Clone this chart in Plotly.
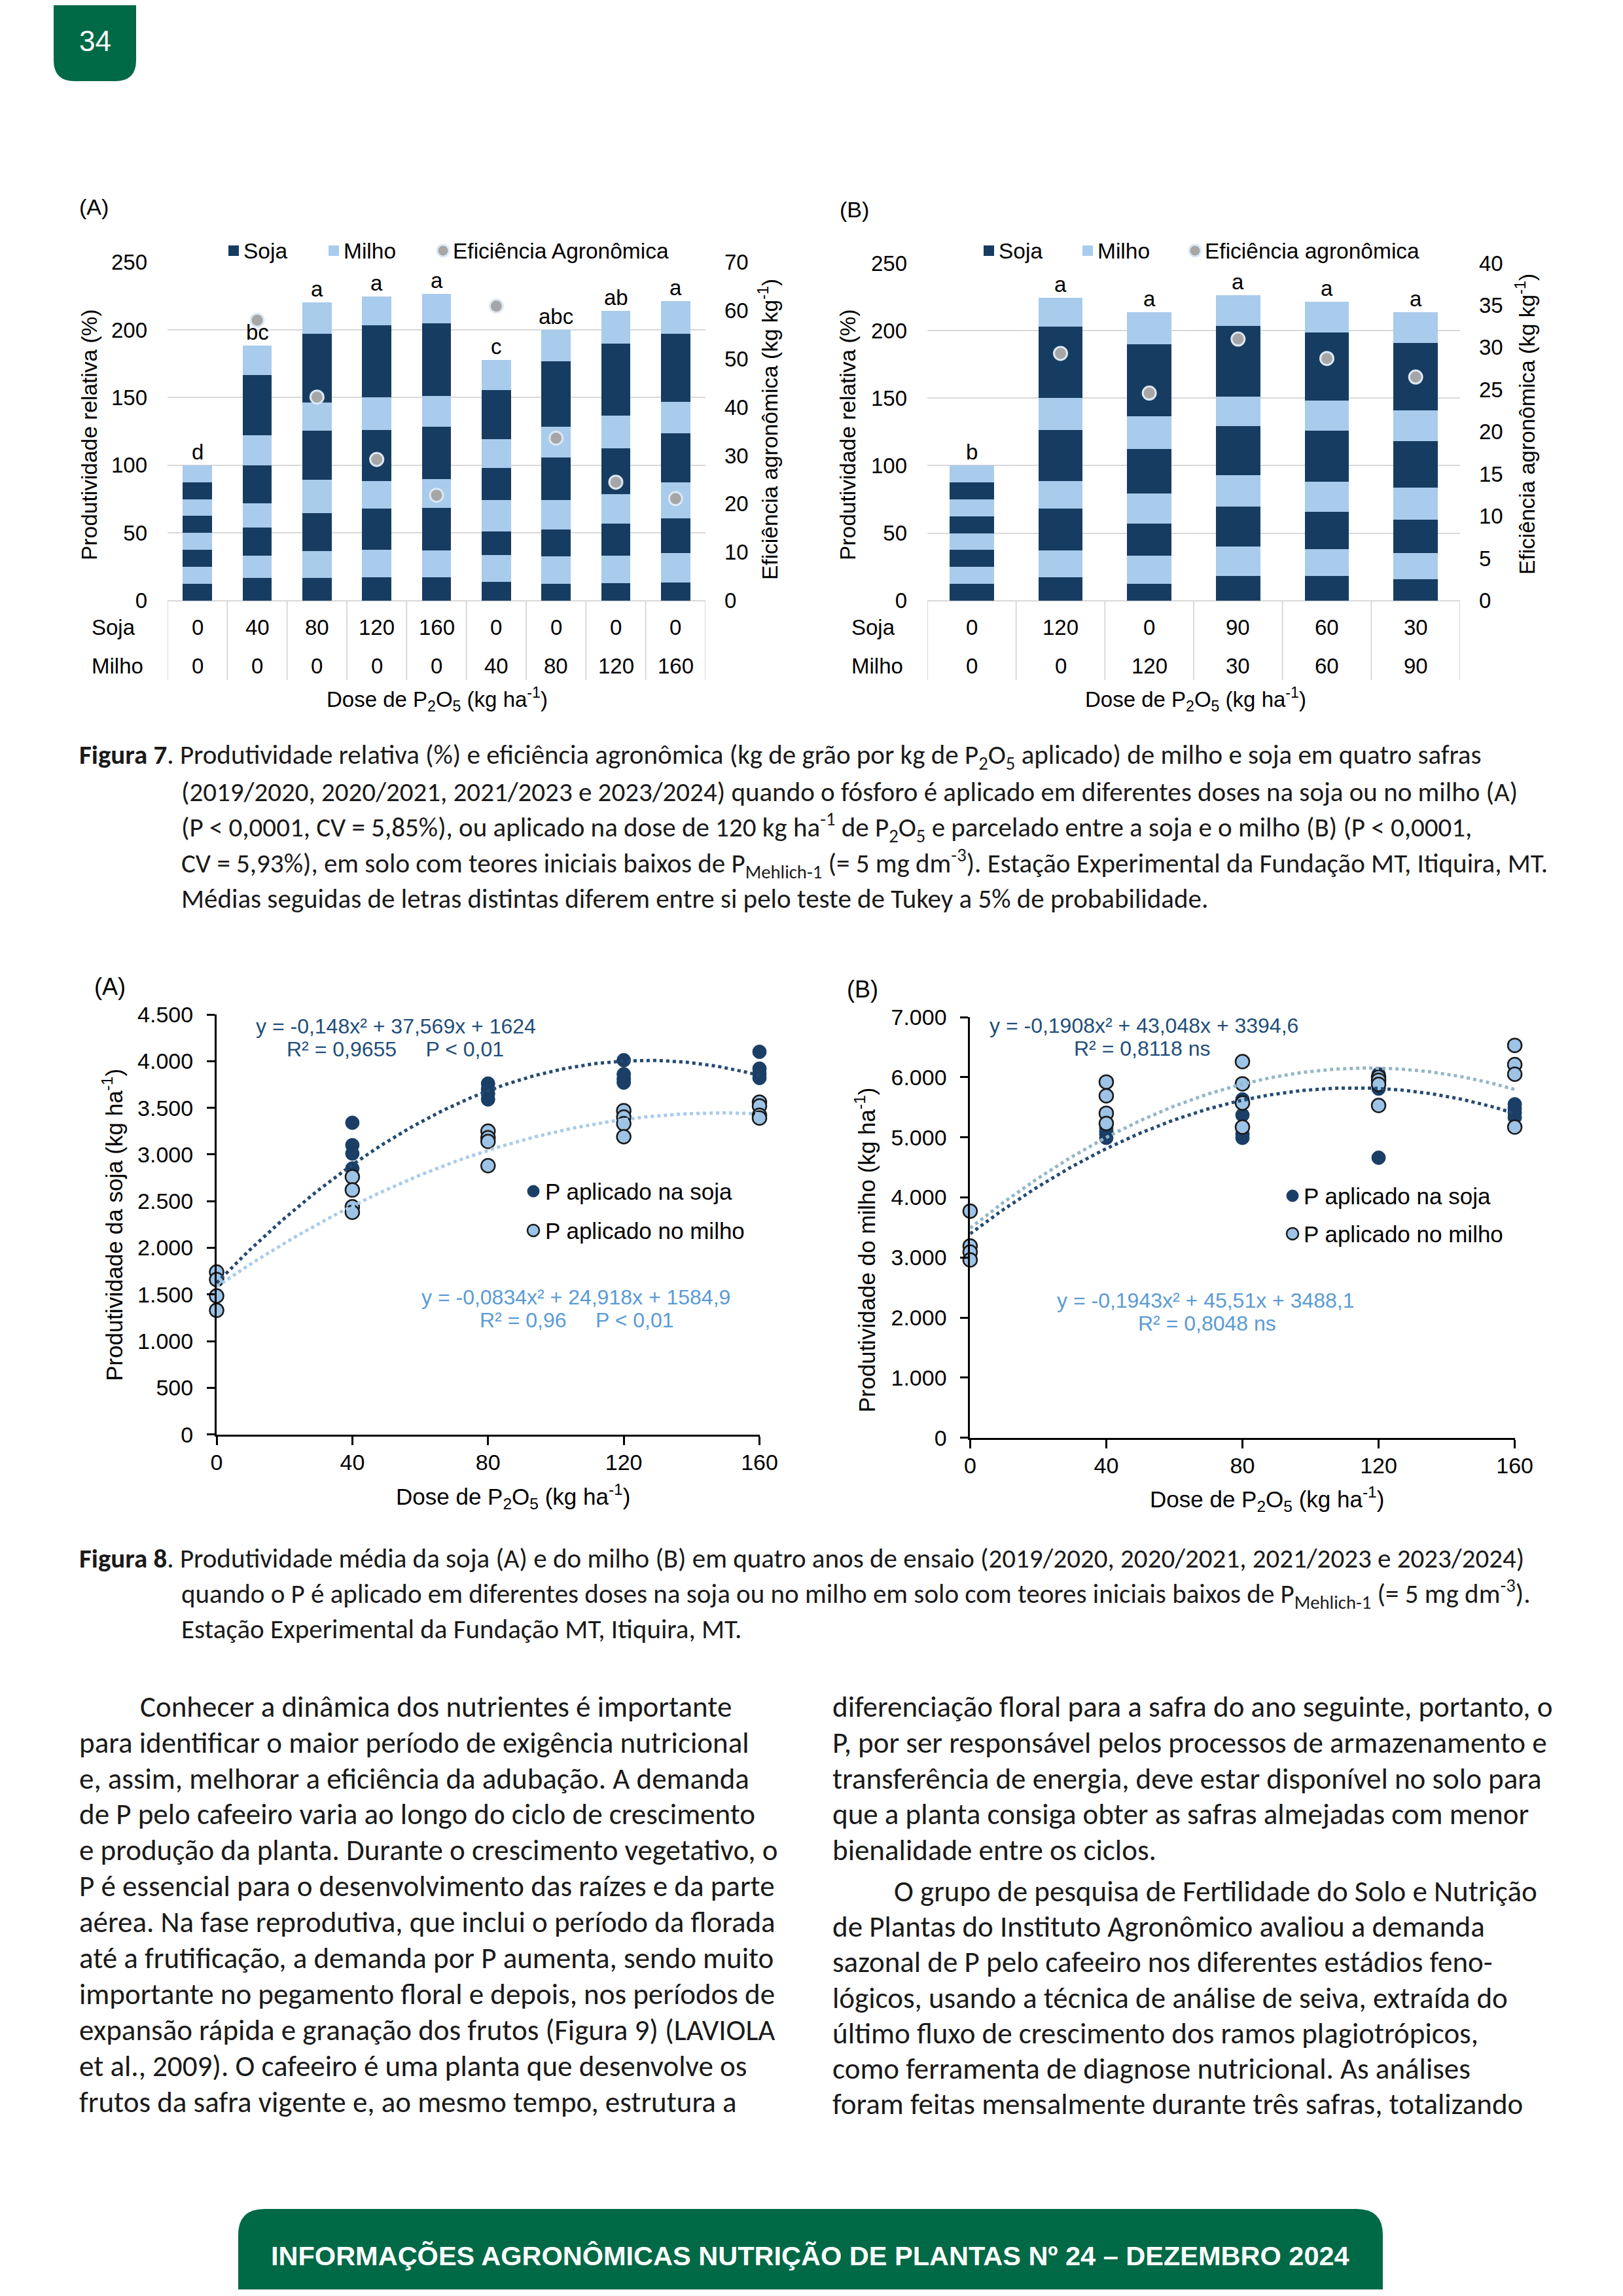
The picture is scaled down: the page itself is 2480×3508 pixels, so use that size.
import numpy as np
import plotly.graph_objects as go

# page (reference) size and figure placement inside the browser page
PAGE_W, PAGE_H = 2480, 3508
OX, OY = 8, 8          # default body margin of the page
WF, HF = 2462, 3490    # figure size (fits inside the window with the margin)


def X(p):
    return (p - OX) / WF


def Y(p):
    return 1 - (p - OY) / HF


ARIAL = "Liberation Sans, Arial, sans-serif"
TEXTF = "Carlito, Lato, sans-serif"
DARK = "#173c61"
LIGHT = "#a9cbec"
EFF = "#a6a6a6"
GRID = "#d9d9d9"
GREEN = "#006946"

# ---------------- Figura 7A data ----------------
f7a_dose_soja = [0, 40, 80, 120, 160, 0, 0, 0, 0]
f7a_dose_milho = [0, 0, 0, 0, 0, 40, 80, 120, 160]
f7a_soja_safra1 = [12.5, 16.8, 16.8, 17.5, 17.5, 13.9, 12.6, 12.9, 13.4]
f7a_milho_safra1 = [12.5, 16.4, 19.8, 19.9, 19.6, 19.6, 20.2, 20.3, 21.6]
f7a_soja_safra2 = [12.5, 20.8, 28.1, 30.4, 31.2, 17.8, 19.8, 23.6, 25.7]
f7a_milho_safra2 = [12.5, 17.7, 24.6, 20.7, 21.5, 23.2, 21.9, 22.0, 26.5]
f7a_soja_safra3 = [12.5, 28.3, 36.0, 37.7, 38.5, 23.7, 31.0, 33.5, 36.3]
f7a_milho_safra3 = [12.5, 22.2, 20.9, 23.8, 22.7, 21.1, 23.0, 24.5, 23.2]
f7a_soja_safra4 = [12.5, 44.3, 51.1, 53.2, 53.7, 36.0, 48.3, 53.0, 50.6]
f7a_milho_safra4 = [12.5, 21.8, 23.2, 21.5, 21.8, 22.2, 23.2, 24.2, 24.0]
f7a_eficiencia = [None, 58.0, 42.1, 29.2, 21.8, 60.9, 33.6, 24.5, 21.1]
f7a_letras = ["d", "bc", "a", "a", "a", "c", "abc", "ab", "a"]

# ---------------- Figura 7B data ----------------
f7b_dose_soja = [0, 120, 0, 90, 60, 30]
f7b_dose_milho = [0, 0, 120, 30, 60, 90]
f7b_soja_safra1 = [12.5, 17.3, 12.7, 18.1, 18.1, 15.8]
f7b_milho_safra1 = [12.5, 19.8, 20.4, 22.0, 20.2, 19.4]
f7b_soja_safra2 = [12.5, 31.1, 24.1, 29.6, 27.4, 24.6]
f7b_milho_safra2 = [12.5, 20.6, 22.0, 23.0, 22.6, 23.9]
f7b_soja_safra3 = [12.5, 37.4, 33.3, 36.5, 37.4, 34.3]
f7b_milho_safra3 = [12.5, 24.0, 24.3, 22.1, 22.5, 23.0]
f7b_soja_safra4 = [12.5, 53.0, 53.0, 52.4, 50.3, 49.8]
f7b_milho_safra4 = [12.5, 21.3, 24.0, 22.5, 22.8, 23.0]
f7b_eficiencia = [None, 29.3, 24.6, 31.0, 28.7, 26.5]
f7b_letras = ["b", "a", "a", "a", "a", "a"]

# ---------------- Figura 8 data ----------------
f8_doses = [0, 40, 80, 120, 160]
# (A) soja yield, P applied to soybean (one list per year)
f8a_psoja_ano1 = [1740, 3340, 3760, 4010, 4100]
f8a_psoja_ano2 = [1660, 3100, 3700, 3860, 3920]
f8a_psoja_ano3 = [1485, 3010, 3650, 3810, 3870]
f8a_psoja_ano4 = [1330, 2850, 3590, 3770, 3820]
# (A) soja yield, P applied to maize
f8a_pmilho_ano1 = [1740, 2760, 3250, 3470, 3560]
f8a_pmilho_ano2 = [1660, 2620, 3180, 3400, 3520]
f8a_pmilho_ano3 = [1485, 2440, 3140, 3330, 3420]
f8a_pmilho_ano4 = [1330, 2380, 2880, 3190, 3390]
# (B) milho yield, P applied to soybean
f8b_psoja_ano1 = [3770, 5150, 5630, 6050, 5550]
f8b_psoja_ano2 = [3190, 5100, 5370, 5900, 5480]
f8b_psoja_ano3 = [3090, 5050, 5050, 5810, 5410]
f8b_psoja_ano4 = [2960, 4990, 4990, 4660, 5330]
# (B) milho yield, P applied to maize
f8b_pmilho_ano1 = [3770, 5920, 6260, 6000, 6530]
f8b_pmilho_ano2 = [3190, 5690, 5890, 5950, 6210]
f8b_pmilho_ano3 = [3090, 5400, 5570, 5880, 6050]
f8b_pmilho_ano4 = [2960, 5230, 5170, 5530, 5170]
# fitted quadratic trend coefficients (a, b, c) as printed in the chart
f8a_coef_psoja = [-0.148, 37.569, 1624]
f8a_coef_pmilho = [-0.0834, 24.918, 1584.9]
f8b_coef_psoja = [-0.1908, 43.048, 3394.6]
f8b_coef_pmilho = [-0.1943, 45.51, 3488.1]

fig = go.Figure()
ann = []
shapes = []


def txt(x, y, s, size, color="#000000", family=ARIAL, xanchor="center",
        yanchor="middle", angle=0, xref="paper", yref="paper"):
    ann.append(dict(x=x, y=y, text=s, showarrow=False, xref=xref, yref=yref,
                    xanchor=xanchor, yanchor=yanchor, textangle=angle,
                    font=dict(family=family, size=size, color=color)))


# ---------------- bar charts (Figura 7) ----------------
def bar_chart(xa, ya, yr, dose_s, dose_m, layers, efic, letras, width,
              row_label_x, table_bottom):
    cats = [f"{s}/{m}" for s, m in zip(dose_s, dose_m)]
    for i, vals in enumerate(layers):
        fig.add_trace(go.Bar(
            x=cats, y=vals, xaxis=xa, yaxis=ya, width=width,
            marker=dict(color=DARK if i % 2 == 0 else LIGHT, line=dict(width=0)),
            showlegend=False, hoverinfo="skip"))
    fig.add_trace(go.Scatter(
        x=cats, y=efic, xaxis=xa, yaxis=yr, mode="markers", cliponaxis=False,
        marker=dict(size=20, color=EFF, line=dict(color="#dbe8f5", width=3)),
        showlegend=False, hoverinfo="skip"))
    totals = [sum(v) for v in zip(*layers)]
    for c, t, l in zip(cats, totals, letras):
        txt(c, t, l, 33, xref=xa, yref=ya, yanchor="bottom")
    # category table under the bars
    for c, s, m in zip(cats, dose_s, dose_m):
        txt(c, Y(958), str(s), 33, xref=xa)
        txt(c, Y(1018), str(m), 33, xref=xa)
    for i in range(len(cats) + 1):
        shapes.append(dict(type="line", xref=xa, yref="paper",
                           x0=i - 0.5, x1=i - 0.5, y0=Y(918), y1=Y(table_bottom),
                           line=dict(color=GRID, width=2)))
    txt(X(row_label_x), Y(958), "Soja", 33, xanchor="left")
    txt(X(row_label_x), Y(1018), "Milho", 33, xanchor="left")


layers_a = [f7a_soja_safra1, f7a_milho_safra1, f7a_soja_safra2, f7a_milho_safra2,
            f7a_soja_safra3, f7a_milho_safra3, f7a_soja_safra4, f7a_milho_safra4]
layers_b = [f7b_soja_safra1, f7b_milho_safra1, f7b_soja_safra2, f7b_milho_safra2,
            f7b_soja_safra3, f7b_milho_safra3, f7b_soja_safra4, f7b_milho_safra4]

bar_chart("x", "y", "y2", f7a_dose_soja, f7a_dose_milho, layers_a,
          f7a_eficiencia, f7a_letras, 0.49, 138, 1039)
bar_chart("x2", "y3", "y4", f7b_dose_soja, f7b_dose_milho, layers_b,
          f7b_eficiencia, f7b_letras, 0.5, 1299, 1039)


def leg_square(x, y, color, s=16):
    shapes.append(dict(type="rect", xref="paper", yref="paper",
                       x0=X(x), x1=X(x + s), y0=Y(y + s / 2), y1=Y(y - s / 2),
                       fillcolor=color, line=dict(width=0)))


def leg_circle(cx, cy, fill, line, lw, r=9):
    shapes.append(dict(type="circle", xref="paper", yref="paper",
                       x0=X(cx - r), x1=X(cx + r), y0=Y(cy + r), y1=Y(cy - r),
                       fillcolor=fill, line=dict(color=line, width=lw)))


# legends for Figura 7
leg_square(349, 383, DARK)
txt(X(370), Y(383), "Soja", 33.5, xanchor="left")
leg_square(502, 383, LIGHT)
txt(X(523), Y(383), "Milho", 33.5, xanchor="left")
leg_circle(677, 383, EFF, "#dbe8f5", 3)
txt(X(690), Y(383), "Eficiência Agronômica", 33.5, xanchor="left")

leg_square(1503, 383, DARK)
txt(X(1524), Y(383), "Soja", 33.5, xanchor="left")
leg_square(1654, 383, LIGHT)
txt(X(1675), Y(383), "Milho", 33.5, xanchor="left")
leg_circle(1826, 383, EFF, "#dbe8f5", 3)
txt(X(1839), Y(383), "Eficiência agronômica", 33.5, xanchor="left")

# titles / axis titles Figura 7
txt(X(119), Y(316), "(A)", 34, xanchor="left")
txt(X(1281), Y(320), "(B)", 34, xanchor="left")
txt(X(136), Y(664), "Produtividade relativa (%)", 33.5, angle=-90)
txt(X(1174), Y(656), "Eficiência agronômica (kg kg<sup>-1</sup>)", 33.5, angle=-90)
txt(X(1295), Y(664), "Produtividade relativa (%)", 33.5, angle=-90)
txt(X(2331), Y(648), "Eficiência agronômica (kg kg<sup>-1</sup>)", 33.5, angle=-90)
txt(X(668), Y(1068), "Dose de P<sub>2</sub>O<sub>5</sub> (kg ha<sup>-1</sup>)", 33)
txt(X(1827), Y(1068), "Dose de P<sub>2</sub>O<sub>5</sub> (kg ha<sup>-1</sup>)", 33)


# ---------------- scatter charts (Figura 8) ----------------
def scatter_series(xa, ya, years, fill, outline, lw):
    xs = [d for yr in years for d in f8_doses]
    ys = [v for yr in years for v in yr]
    fig.add_trace(go.Scatter(
        x=xs, y=ys, xaxis=xa, yaxis=ya, mode="markers", cliponaxis=False,
        marker=dict(size=21, color=fill, line=dict(color=outline, width=lw)),
        showlegend=False, hoverinfo="skip"))


def trend(xa, ya, coef, color):
    xx = np.linspace(min(f8_doses), max(f8_doses), 161)
    yy = coef[0] * xx ** 2 + coef[1] * xx + coef[2]
    fig.add_trace(go.Scatter(
        x=xx, y=yy, xaxis=xa, yaxis=ya, mode="lines", cliponaxis=False,
        line=dict(color=color, width=5, dash="dot"),
        showlegend=False, hoverinfo="skip"))


MK_DARK = "#1a3e66"
MK_LIGHT = "#9dc3e6"

scatter_series("x3", "y5", [f8a_psoja_ano1, f8a_psoja_ano2, f8a_psoja_ano3, f8a_psoja_ano4],
               MK_DARK, MK_DARK, 1)
scatter_series("x3", "y5", [f8a_pmilho_ano1, f8a_pmilho_ano2, f8a_pmilho_ano3, f8a_pmilho_ano4],
               MK_LIGHT, "#1a1a1a", 2.5)
trend("x3", "y5", f8a_coef_psoja, "#244a73")
trend("x3", "y5", f8a_coef_pmilho, "#a9cbec")

scatter_series("x4", "y6", [f8b_psoja_ano1, f8b_psoja_ano2, f8b_psoja_ano3, f8b_psoja_ano4],
               MK_DARK, MK_DARK, 1)
scatter_series("x4", "y6", [f8b_pmilho_ano1, f8b_pmilho_ano2, f8b_pmilho_ano3, f8b_pmilho_ano4],
               MK_LIGHT, "#1a1a1a", 2.5)
trend("x4", "y6", f8b_coef_psoja, "#244a73")
trend("x4", "y6", f8b_coef_pmilho, "#93b7c8")

# legends Figura 8
leg_circle(815, 1820, MK_DARK, MK_DARK, 1, r=9)
txt(X(831), Y(1820), "P aplicado na soja", 35, xanchor="left")
leg_circle(815, 1880, MK_LIGHT, "#1a1a1a", 2.5, r=9)
txt(X(831), Y(1880), "P aplicado no milho", 35, xanchor="left")
leg_circle(1975, 1827, MK_DARK, MK_DARK, 1, r=9)
txt(X(1990), Y(1827), "P aplicado na soja", 35, xanchor="left")
leg_circle(1975, 1885, MK_LIGHT, "#1a1a1a", 2.5, r=9)
txt(X(1990), Y(1885), "P aplicado no milho", 35, xanchor="left")

# equations
EQ_DARK = "#1f4e79"
EQ_LIGHT = "#5b9bd5"
NB = "&nbsp;" * 5
txt(X(605), Y(1568), "y = -0,148x² + 37,569x + 1624", 32, EQ_DARK)
txt(X(604), Y(1603), f"R² = 0,9655{NB}P &lt; 0,01", 32, EQ_DARK)
txt(X(880), Y(1982), "y = -0,0834x² + 24,918x + 1584,9", 32, EQ_LIGHT)
txt(X(881), Y(2017), f"R² = 0,96{NB}P &lt; 0,01", 32, EQ_LIGHT)
txt(X(1748), Y(1567), "y = -0,1908x² + 43,048x + 3394,6", 32, EQ_DARK)
txt(X(1745), Y(1602), "R² = 0,8118 ns", 32, EQ_DARK)
txt(X(1842), Y(1987), "y = -0,1943x² + 45,51x + 3488,1", 32, EQ_LIGHT)
txt(X(1844), Y(2022), "R² = 0,8048 ns", 32, EQ_LIGHT)

# titles / axis titles Figura 8
txt(X(142), Y(1507), "(A)", 36, xanchor="left")
txt(X(1292), Y(1511), "(B)", 36, xanchor="left")
txt(X(172), Y(1872), "Produtividade da soja (kg ha<sup>-1</sup>)", 35, angle=-90)
txt(X(1322), Y(1910), "Produtividade do milho (kg ha<sup>-1</sup>)", 35, angle=-90)
txt(X(784), Y(2286), "Dose de P<sub>2</sub>O<sub>5</sub> (kg ha<sup>-1</sup>)", 35)
txt(X(1936), Y(2290), "Dose de P<sub>2</sub>O<sub>5</sub> (kg ha<sup>-1</sup>)", 35)

# ---------------- captions and body text ----------------
CAP = 41
BODY = 45
TXTC = "#1a1a1a"
cap7 = [
    "<b>Figura 7</b>. Produtividade relativa (%) e eficiência agronômica (kg de grão por kg de P<sub>2</sub>O<sub>5</sub> aplicado) de milho e soja em quatro safras",
    "(2019/2020, 2020/2021, 2021/2023 e 2023/2024) quando o fósforo é aplicado em diferentes doses na soja ou no milho (A)",
    "(P &lt; 0,0001, CV = 5,85%), ou aplicado na dose de 120 kg ha<sup>-1</sup> de P<sub>2</sub>O<sub>5</sub> e parcelado entre a soja e o milho (B) (P &lt; 0,0001,",
    "CV = 5,93%), em solo com teores iniciais baixos de P<sub>Mehlich-1</sub> (= 5 mg dm<sup>-3</sup>). Estação Experimental da Fundação MT, Itiquira, MT.",
    "Médias seguidas de letras distintas diferem entre si pelo teste de Tukey a 5% de probabilidade.",
]
cap7_y = [1156, 1210, 1264, 1319, 1373]
for i, (line, yy) in enumerate(zip(cap7, cap7_y)):
    txt(X(119 if i == 0 else 275), Y(yy), line, CAP, TXTC, TEXTF, xanchor="left")

cap8 = [
    "<b>Figura 8</b>. Produtividade média da soja (A) e do milho (B) em quatro anos de ensaio (2019/2020, 2020/2021, 2021/2023 e 2023/2024)",
    "quando o P é aplicado em diferentes doses na soja ou no milho em solo com teores iniciais baixos de P<sub>Mehlich-1</sub> (= 5 mg dm<sup>-3</sup>).",
    "Estação Experimental da Fundação MT, Itiquira, MT.",
]
cap8_y = [2381, 2435, 2489]
for i, (line, yy) in enumerate(zip(cap8, cap8_y)):
    txt(X(119 if i == 0 else 275), Y(yy), line, CAP, TXTC, TEXTF, xanchor="left")

col1 = [
    "Conhecer a dinâmica dos nutrientes é importante",
    "para identificar o maior período de exigência nutricional",
    "e, assim, melhorar a eficiência da adubação. A demanda",
    "de P pelo cafeeiro varia ao longo do ciclo de crescimento",
    "e produção da planta. Durante o crescimento vegetativo, o",
    "P é essencial para o desenvolvimento das raízes e da parte",
    "aérea. Na fase reprodutiva, que inclui o período da florada",
    "até a frutificação, a demanda por P aumenta, sendo muito",
    "importante no pegamento floral e depois, nos períodos de",
    "expansão rápida e granação dos frutos (Figura 9) (LAVIOLA",
    "et al., 2009). O cafeeiro é uma planta que desenvolve os",
    "frutos da safra vigente e, ao mesmo tempo, estrutura a",
]
col1_y = [2607, 2662, 2717, 2771, 2826, 2881, 2936, 2991, 3046, 3101, 3156, 3211]
for i, (line, yy) in enumerate(zip(col1, col1_y)):
    txt(X(212 if i == 0 else 119), Y(yy), line, BODY, TXTC, TEXTF, xanchor="left")

col2 = [
    "diferenciação floral para a safra do ano seguinte, portanto, o",
    "P, por ser responsável pelos processos de armazenamento e",
    "transferência de energia, deve estar disponível no solo para",
    "que a planta consiga obter as safras almejadas com menor",
    "bienalidade entre os ciclos.",
    "O grupo de pesquisa de Fertilidade do Solo e Nutrição",
    "de Plantas do Instituto Agronômico avaliou a demanda",
    "sazonal de P pelo cafeeiro nos diferentes estádios feno-",
    "lógicos, usando a técnica de análise de seiva, extraída do",
    "último fluxo de crescimento dos ramos plagiotrópicos,",
    "como ferramenta de diagnose nutricional. As análises",
    "foram feitas mensalmente durante três safras, totalizando",
]
col2_y = [2607, 2662, 2717, 2771, 2826, 2889, 2943, 2997, 3052, 3106, 3160, 3214]
for i, (line, yy) in enumerate(zip(col2, col2_y)):
    txt(X(1364 if i == 5 else 1270), Y(yy), line, BODY, TXTC, TEXTF, xanchor="left")

# ---------------- page decorations ----------------
x0, x1, yb, yt = X(82), X(208), Y(124), Y(-40)
rx, ry = 32 / WF, 32 / HF
shapes.append(dict(type="path", xref="paper", yref="paper", fillcolor=GREEN, line=dict(width=0),
                   path=f"M {x0},{yt} L {x0},{yb + ry} Q {x0},{yb} {x0 + rx},{yb} "
                        f"L {x1 - rx},{yb} Q {x1},{yb} {x1},{yb + ry} L {x1},{yt} Z"))
txt(X(145), Y(62), "34", 44, "#ffffff")

x0, x1, yb, yt = X(364), X(2113), Y(3560), Y(3375)
rx, ry = 40 / WF, 40 / HF
shapes.append(dict(type="path", xref="paper", yref="paper", fillcolor=GREEN, line=dict(width=0),
                   path=f"M {x0},{yb} L {x0},{yt - ry} Q {x0},{yt} {x0 + rx},{yt} "
                        f"L {x1 - rx},{yt} Q {x1},{yt} {x1},{yt - ry} L {x1},{yb} Z"))
txt(X(1238), Y(3446), "<b>INFORMAÇÕES AGRONÔMICAS NUTRIÇÃO DE PLANTAS Nº 24 – DEZEMBRO 2024</b>",
    41.5, "#ffffff")

# ---------------- layout ----------------
tick7 = dict(family=ARIAL, size=33, color="#000000")
tick8 = dict(family=ARIAL, size=34, color="#000000")

bar_x = dict(type="category", showticklabels=False, showgrid=False, zeroline=False,
             showline=False, ticks="", fixedrange=True, automargin=False)
bar_y = dict(range=[0, 250], dtick=50, tick0=0, showgrid=True, gridcolor=GRID, gridwidth=2,
             zeroline=True, zerolinecolor=GRID, zerolinewidth=2, showline=False, ticks="",
             tickfont=tick7, ticklabelstandoff=30, automargin=False)
bar_yr = dict(side="right", showgrid=False, zeroline=False, showline=False, ticks="",
              tickfont=tick7, ticklabelstandoff=28, tick0=0, automargin=False)

sc_x = dict(range=[0, 160], tickvals=f8_doses, showgrid=False, zeroline=False, showline=True,
            linecolor="#000000", linewidth=3, ticks="outside", ticklen=13, tickwidth=3,
            tickcolor="#000000", tickfont=tick8, ticklabelstandoff=-3, automargin=False)
sc_y = dict(showgrid=False, zeroline=False, showline=True, linecolor="#000000", linewidth=3,
            ticks="outside", ticklen=12, tickwidth=3, tickcolor="#000000", tickfont=tick8,
            tickformat=",d", ticklabelstandoff=14, automargin=False)

fig.update_layout(
    width=WF, height=HF, autosize=False,
    margin=dict(l=0, r=0, t=0, b=0, pad=0),
    paper_bgcolor="#ffffff", plot_bgcolor="rgba(0,0,0,0)",
    barmode="stack", separators=",.", showlegend=False,
    font=dict(family=ARIAL, color="#000000"),
    xaxis=dict(bar_x, domain=[X(256), X(1078)], anchor="y", range=[-0.5, 8.5]),
    yaxis=dict(bar_y, domain=[Y(917.7), Y(400.5)], anchor="x"),
    yaxis2=dict(bar_yr, overlaying="y", anchor="x", range=[0, 70], dtick=10),
    xaxis2=dict(bar_x, domain=[X(1417), X(2231)], anchor="y3", range=[-0.5, 5.5]),
    yaxis3=dict(bar_y, domain=[Y(917.7), Y(402)], anchor="x2"),
    yaxis4=dict(bar_yr, overlaying="y3", anchor="x2", range=[0, 40], dtick=5),
    xaxis3=dict(sc_x, domain=[X(331), X(1160.5)], anchor="y5"),
    yaxis5=dict(sc_y, domain=[Y(2191.7), Y(1550)], anchor="x3", range=[0, 4500], dtick=500),
    xaxis4=dict(sc_x, domain=[X(1482.4), X(2314.6)], anchor="y6"),
    yaxis6=dict(sc_y, domain=[Y(2196.7), Y(1554)], anchor="x4", range=[0, 7000], dtick=1000),
    annotations=ann,
    shapes=shapes,
)

fig.write_html("out.html", config={"displayModeBar": False})
